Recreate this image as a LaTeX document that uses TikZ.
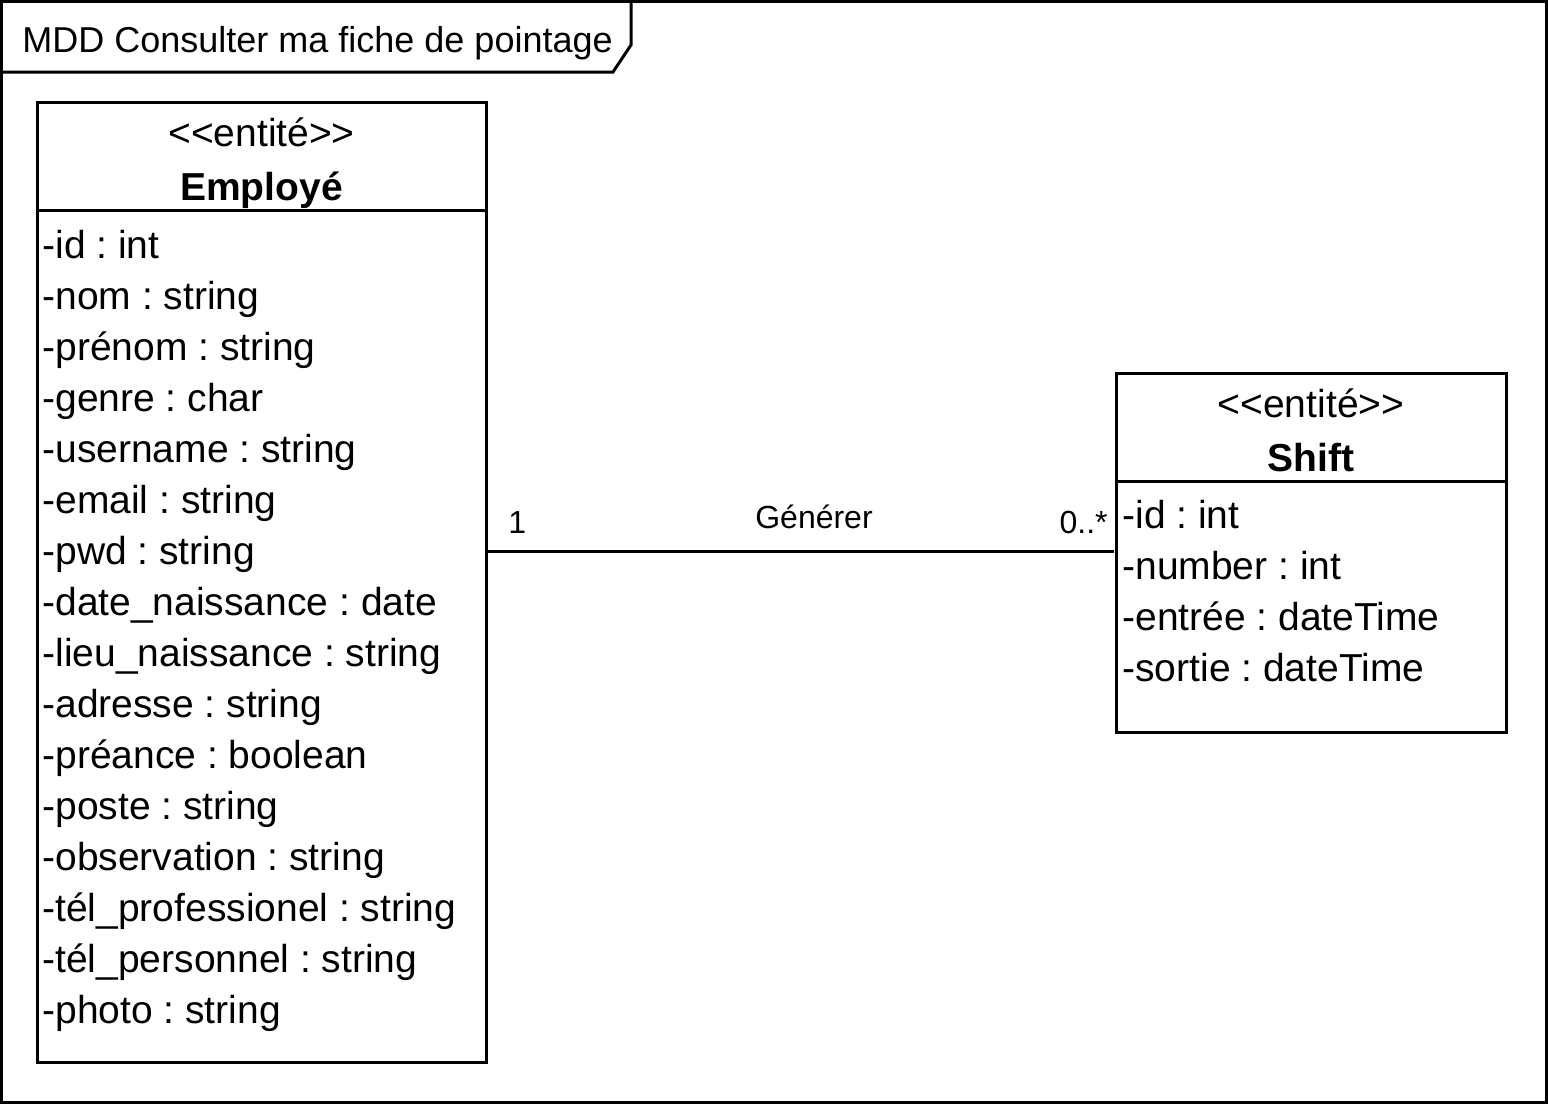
\documentclass[tikz,border=0pt]{standalone}
\usepackage{fontspec}
\setmainfont{Liberation Sans}[Ligatures=TeXOff]
\begin{document}
\frenchspacing
\begin{tikzpicture}[x=0.5pt,y=-0.5pt,
  frameline/.style={line width=1.5pt,line join=miter},
  classbox/.style={draw,line width=1.5pt,fill=white,anchor=north west,inner sep=0pt,outer sep=0pt},
  attr/.style={anchor=base west,inner sep=0pt,font=\fontsize{19.5pt}{23pt}\selectfont},
  stereo/.style={anchor=base,inner sep=0pt,font=\fontsize{19.5pt}{23pt}\selectfont},
  cname/.style={anchor=base,inner sep=0pt,font=\fontsize{19.5pt}{23pt}\selectfont\bfseries},
  lbl/.style={anchor=base,inner sep=0pt,font=\fontsize{16pt}{19pt}\selectfont},
  titletxt/.style={anchor=base west,inner sep=0pt,font=\fontsize{18pt}{22pt}\selectfont}]
\useasboundingbox (0,0) rectangle (1548,1104);
% outer frame
\draw[frameline] (1.5,1.5) rectangle (1546.5,1102.5);
\draw[frameline] (1.5,72) -- (613,72) -- (631,45) -- (631,1.5);
\node[titletxt] (title) at (22,52) {MDD Consulter ma fiche de pointage};
% Employe class
\node[classbox,minimum width=224.5pt,minimum height=480pt] (emp) at (37,102) {};
\draw[line width=1.5pt] (emp.west |- 0,210) -- (emp.east |- 0,210);
\node[stereo] (empst) at (261.5,146) {<<entité>>};
\node[cname] (empname) at (261.5,200) {Employé};
\foreach \t [count=\i from 0] in {-id : int,-nom : string,-prénom : string,-genre : char,-username : string,-email : string,-pwd : string,-date\_naissance : date,-lieu\_naissance : string,-adresse : string,-préance : boolean,-poste : string,-observation : string,-tél\_professionel : string,-tél\_personnel : string,-photo : string}
  \node[attr] (ea\i) at (42,{258+51*\i}) {\t};
% Shift class
\node[classbox,minimum width=195pt,minimum height=179.5pt] (shift) at (1116,373) {};
\draw[line width=1.5pt] (shift.west |- 0,481) -- (shift.east |- 0,481);
\node[stereo] (shst) at (1311,417) {<<entité>>};
\node[cname] (shname) at (1311,471) {Shift};
\foreach \t [count=\i from 0] in {-id : int,-number : int,-entrée : dateTime,-sortie : dateTime}
  \node[attr] (sa\i) at (1122,{528+51*\i}) {\t};
% association
\draw[line width=1.5pt] (emp.east |- 0,551) -- ([xshift=-1pt]shift.west |- 0,551);
\node[lbl,anchor=base west] (m1) at (508,533) {1};
\node[lbl] (assoc) at (814,528) {Générer};
\node[lbl,anchor=base east] (m2) at (1108,533) {0..*};
\end{tikzpicture}
\end{document}
